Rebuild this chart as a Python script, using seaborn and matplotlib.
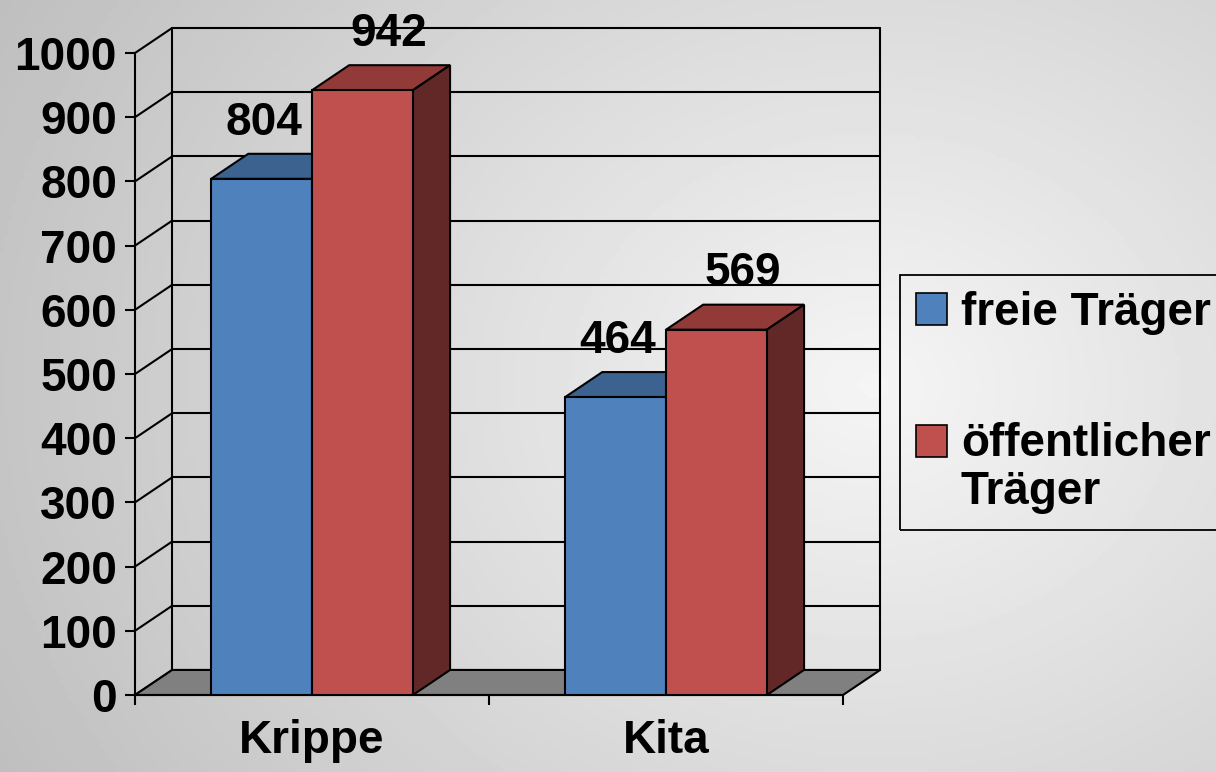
import matplotlib
matplotlib.use("Agg")
import numpy as np
import pandas as pd
import matplotlib.pyplot as plt
from matplotlib.patches import Polygon, Patch
import seaborn as sns

# Daten
kategorien = ["Krippe", "Kita"]
traeger = ["freie Träger", "öffentlicher\nTräger"]
freie = [804, 464]
oeffentlich = [942, 569]
y_ticks = list(range(0, 1001, 100))

df = pd.DataFrame({
    "Kategorie": kategorien * 2,
    "Träger": [traeger[0]] * 2 + [traeger[1]] * 2,
    "Wert": freie + oeffentlich,
})

# Farben: Vorderseite, Deckel, Seite
front = ["#4F81BD", "#C0504D"]
top = ["#3C6290", "#923A38"]
side = ["#2B4566", "#622828"]
label_dx = [0.007, 0.075]

# Tiefe des 3D-Effekts (Kategorie- bzw. Werteinheiten)
DX, DY = 0.105, 39
LW = 1.5

sns.set_theme(style="white")
plt.rcParams["font.family"] = ["Liberation Sans", "DejaVu Sans"]
plt.rcParams["font.weight"] = "bold"
plt.rcParams["text.color"] = "black"

fig = plt.figure(figsize=(12.16, 7.72), dpi=100)

# grauer Verlauf im Hintergrund
bg = fig.add_axes([0, 0, 1, 1], zorder=-10)
yy, xx = np.mgrid[0:1:200j, 0:1:300j]
r = np.sqrt(((xx - 0.72) * 1.3) ** 2 + (yy - 0.5) ** 2)
bg.imshow(0.96 - 0.2 * r, cmap="gray", vmin=0, vmax=1, aspect="auto",
          extent=[0, 1, 0, 1])
bg.axis("off")

ax = fig.add_axes([135 / 1216, (772 - 695) / 772, (843 - 135) / 1216, (695 - 53) / 772])
ax.set_facecolor("none")

sns.barplot(data=df, x="Kategorie", y="Wert", hue="Träger", order=kategorien,
            hue_order=traeger, palette=front, saturation=1, width=0.57,
            edgecolor="black", linewidth=LW, errorbar=None, legend=False,
            zorder=3, ax=ax)

ax.set_xlim(-0.5, 1.5)
ax.set_ylim(0, 1000)
x_lo, x_hi = ax.get_xlim()

# Rückwand mit Gitterlinien, linke Seitenwand, Boden
for v in y_ticks:
    ax.plot([x_lo + DX, x_hi + DX], [v + DY, v + DY], color="black", lw=LW,
            zorder=1, clip_on=False)
    ax.plot([x_lo, x_lo + DX], [v, v + DY], color="black", lw=LW,
            zorder=1, clip_on=False)
for xv in (x_lo + DX, x_hi + DX):
    ax.plot([xv, xv], [DY, y_ticks[-1] + DY], color="black", lw=LW,
            zorder=1, clip_on=False)
ax.add_patch(Polygon([(x_lo, 0), (x_hi, 0), (x_hi + DX, DY), (x_lo + DX, DY)],
                     closed=True, facecolor="#808080", edgecolor="black",
                     lw=LW, zorder=1.5, clip_on=False))

# Deckel und Seitenflächen der Säulen + Werte
for i, cont in enumerate(ax.containers):
    for bar in cont:
        x0, w, h = bar.get_x(), bar.get_width(), bar.get_height()
        ax.add_patch(Polygon([(x0, h), (x0 + w, h), (x0 + w + DX, h + DY), (x0 + DX, h + DY)],
                             closed=True, facecolor=top[i], edgecolor="black",
                             lw=LW, zorder=2, clip_on=False))
        ax.add_patch(Polygon([(x0 + w, 0), (x0 + w + DX, DY), (x0 + w + DX, h + DY), (x0 + w, h)],
                             closed=True, facecolor=side[i], edgecolor="black",
                             lw=LW, zorder=2, clip_on=False))
        ax.text(x0 + w / 2 + label_dx[i], h + DY + 30, f"{h:.0f}", ha="center",
                va="baseline", fontsize=33, fontweight="bold", color="black",
                clip_on=False, zorder=4)

# Achsen
for s in ("top", "right"):
    ax.spines[s].set_visible(False)
for s in ("left", "bottom"):
    ax.spines[s].set_color("black")
    ax.spines[s].set_linewidth(LW)
    ax.spines[s].set_zorder(2.5)

ax.set_yticks(y_ticks)
ax.tick_params(axis="y", which="major", left=True, length=7, width=LW,
               direction="out", pad=6, labelsize=33, color="black",
               labelcolor="black")
ax.set_xticks([-0.5, 0.5, 1.5], minor=True)
ax.tick_params(axis="x", which="major", bottom=False, length=0, pad=17,
               labelsize=33, labelcolor="black")
ax.tick_params(axis="x", which="minor", bottom=True, length=7, width=LW,
               color="black")
ax.set_xlabel("")
ax.set_ylabel("")

# Legende
handles = [Patch(facecolor=c, edgecolor="black", linewidth=1.2) for c in front]
leg = fig.legend(handles, traeger, loc="upper left",
                 bbox_to_anchor=(900 / 1216, 1 - 275 / 772), borderaxespad=0,
                 frameon=True, fancybox=False, framealpha=1,
                 prop={"size": 33, "weight": "bold"},
                 labelcolor="black", handlelength=0.68, handleheight=0.68,
                 handletextpad=0.3, labelspacing=1.9, borderpad=0.35)
frame = leg.get_frame()
frame.set_facecolor("none")
frame.set_edgecolor("black")
frame.set_linewidth(1.3)
for t in leg.get_texts():
    t.set_linespacing(1.1)
# Kästchen des zweizeiligen Eintrags an der ersten Zeile ausrichten
leg.legend_handles[1].set_y(leg.legend_handles[1].get_y() + 20)

fig.savefig("out.png", dpi=100)
